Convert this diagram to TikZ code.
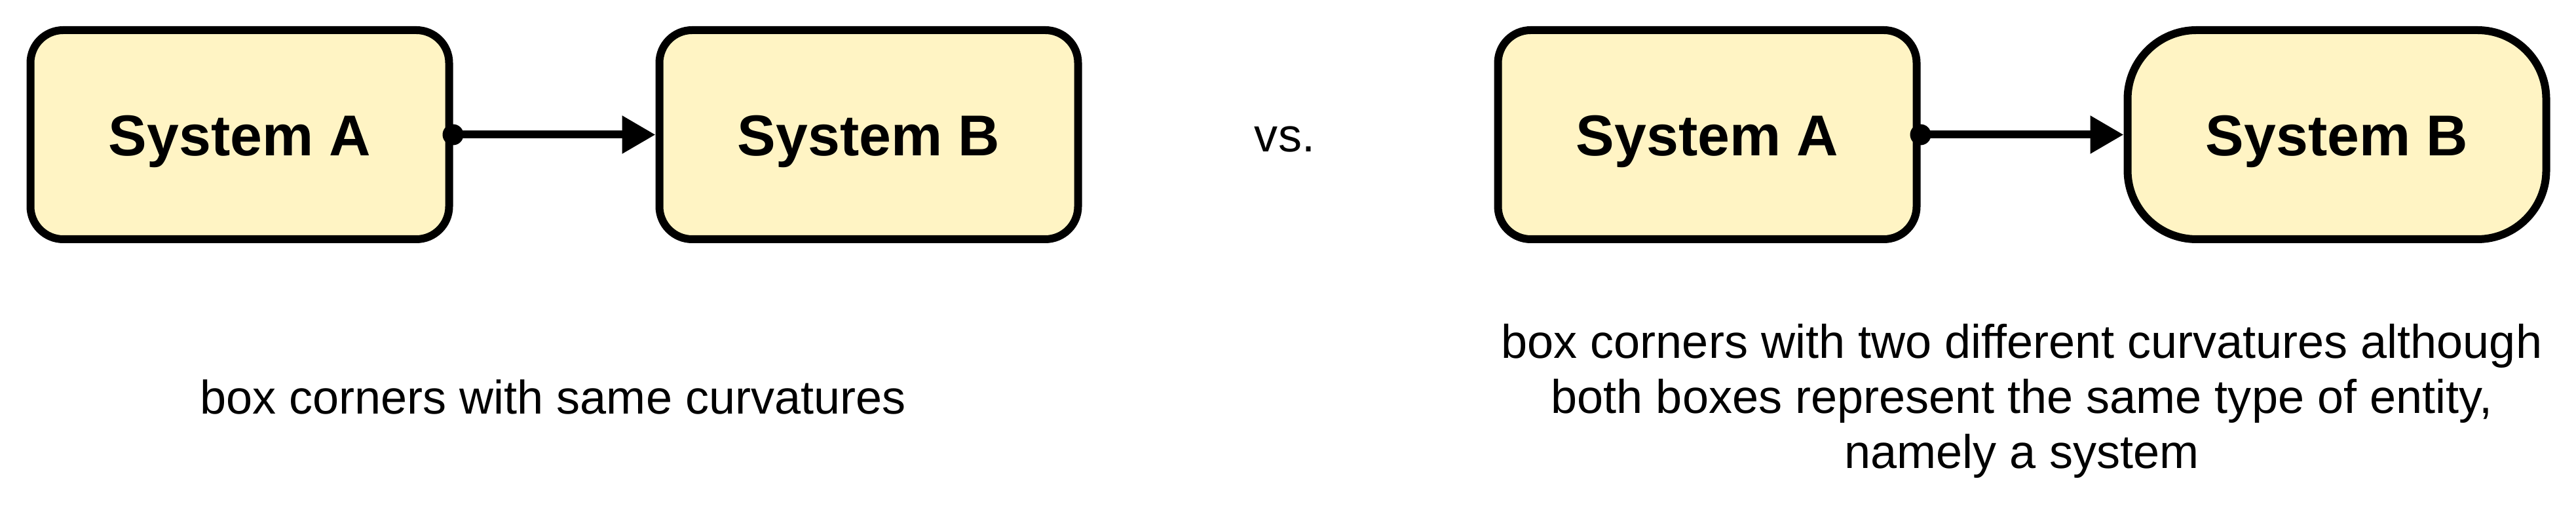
\documentclass[tikz,border=0pt]{standalone}
\usepackage{fontspec}
\setmainfont{Liberation Sans}
\usetikzlibrary{arrows.meta}
\definecolor{boxfill}{HTML}{FFF4C4}
\tikzset{
  sysbox/.style={draw=black, fill=boxfill, line width=0.12cm, rectangle,
    minimum width=6.39cm, minimum height=3.19cm, inner sep=0pt,
    rounded corners=0.5cm,
    font=\fontsize{25}{30}\selectfont\bfseries, text height=0.64cm, text depth=0pt},
  biground/.style={rounded corners=1.05cm},
  link/.style={line width=0.12cm, -{Triangle[length=0.51cm,width=0.55cm]}},
  caption/.style={font=\fontsize{20.5}{23.9}\selectfont, align=center, inner sep=0pt}
}
\begin{document}
\begin{tikzpicture}
\useasboundingbox (0,0) rectangle (39.32,-7.72);
% left pair
\node[sysbox] (A1) at (3.66,-2.055) {System A};
\node[sysbox] (B1) at (13.26,-2.055) {System B};
\fill (A1.east) circle (0.16);
\draw[link] (A1.east) -- (B1.west);
% vs
\node[font=\fontsize{20.5}{24}\selectfont, anchor=base, inner sep=0pt] (vs) at (19.61,-2.32) {vs.};
% right pair
\node[sysbox] (A2) at (26.06,-2.055) {System A};
\node[sysbox, biground] (B2) at (35.67,-2.055) {System B};
\fill (A2.east) circle (0.16);
\draw[link] (A2.east) -- (B2.west);
% captions
\node[caption, anchor=base] (c1) at (8.44,-6.32) {box corners with same curvatures};
\node[caption, anchor=base] (c2) at (30.86,-7.15) {box corners with two different curvatures although\\both boxes represent the same type of entity,\\namely a system};
\end{tikzpicture}
\end{document}
